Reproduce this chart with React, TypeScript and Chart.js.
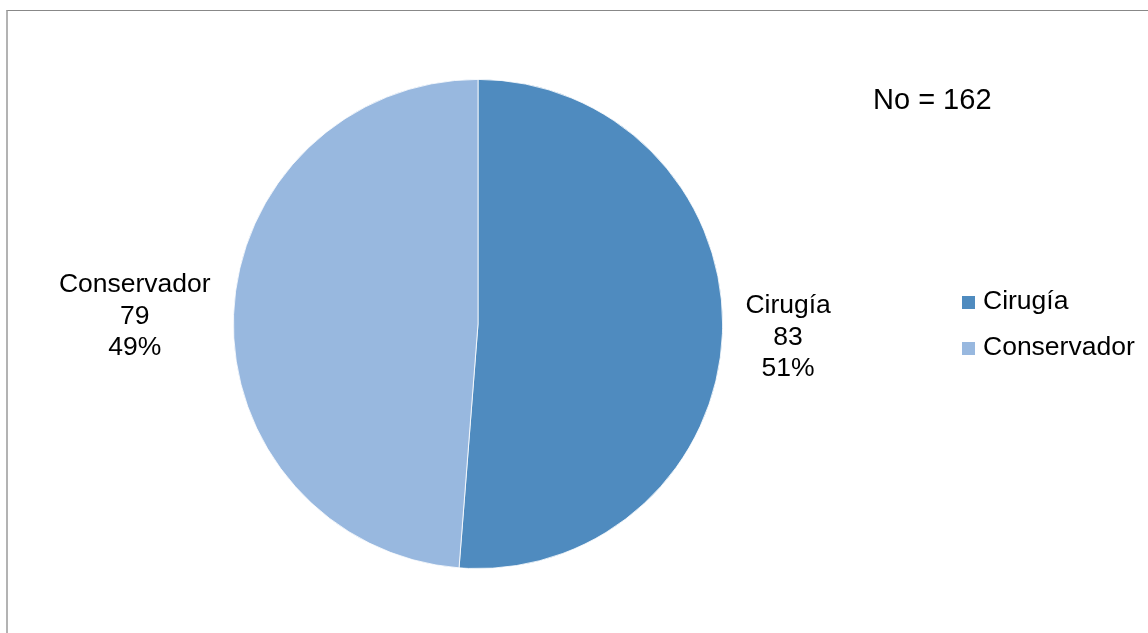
import React, { useEffect, useRef } from "react";
import { Chart, registerables } from "chart.js";

Chart.register(...registerables);

const categories = ["Cirugía", "Conservador"];
const values = [83, 79];
const colors = ["#4F8BBF", "#98B8DF"];
const totalLabelPrefix = "No = ";

const FAMILY = "'Liberation Sans', Arial, sans-serif";
const FONT = "26.5px " + FAMILY;

const labelsPlugin = {
  id: "customLabels",
  afterDatasetsDraw(chart: any) {
    const ctx = chart.ctx as CanvasRenderingContext2D;
    const meta = chart.getDatasetMeta(0);
    const data = chart.data.datasets[0].data as number[];
    const total = data.reduce((a, b) => a + b, 0);
    ctx.save();
    ctx.font = FONT;
    ctx.fillStyle = "#000000";
    ctx.textBaseline = "middle";
    const lineH = 31.5;
    meta.data.forEach((arc: any, i: number) => {
      const mid = (arc.startAngle + arc.endAngle) / 2;
      const r = arc.outerRadius + 23;
      const ax = arc.x + Math.cos(mid) * r;
      const ay = arc.y + Math.sin(mid) * r + 3;
      const lines = [
        String(chart.data.labels[i]),
        String(data[i]),
        Math.round((data[i] / total) * 100) + "%",
      ];
      const w = Math.max(...lines.map((l) => ctx.measureText(l).width));
      const right = Math.cos(mid) >= 0;
      const cx = right ? ax + w / 2 : ax - w / 2;
      ctx.textAlign = "center";
      lines.forEach((l, k) => {
        ctx.fillText(l, cx, ay + (k - 1) * lineH);
      });
    });

    // legend
    ctx.textAlign = "left";
    const legendX = 962;
    const legendY = [302, 348];
    categories.forEach((c, i) => {
      ctx.fillStyle = colors[i];
      ctx.fillRect(legendX, legendY[i] - 6, 13, 13);
      ctx.fillStyle = "#000000";
      ctx.fillText(c, legendX + 21, legendY[i]);
    });

    // total
    ctx.font = "29px " + FAMILY;
    ctx.fillText(totalLabelPrefix + total, 873, 101);
    ctx.restore();
  },
};

export default function App() {
  const ref = useRef<HTMLCanvasElement | null>(null);
  useEffect(() => {
    if (!ref.current) return;
    const chart = new Chart(ref.current, {
      type: "pie",
      data: {
        labels: categories,
        datasets: [
          {
            data: values,
            backgroundColor: colors,
            borderColor: "#ffffff",
            borderWidth: 0.8,
          },
        ],
      },
      options: {
        animation: false,
        responsive: false,
        maintainAspectRatio: false,
        layout: { padding: { left: 233, right: 425, top: 79, bottom: 64 } },
        plugins: {
          legend: { display: false },
          tooltip: { enabled: false },
        },
      },
      plugins: [labelsPlugin],
    });
    return () => chart.destroy();
  }, []);
  return (
    <div style={{ position: "fixed", left: 0, top: 0, width: 1148, height: 633, background: "#fff" }}>
      <div
        style={{
          position: "absolute",
          left: 6,
          top: 10,
          width: 1148,
          height: 640,
          borderLeft: "2px solid #b3b3b3",
          borderTop: "1px solid #888888",
          boxSizing: "border-box",
        }}
      />
      <canvas ref={ref} width={1148} height={633} style={{ position: "absolute", left: 0, top: 0 }} />
    </div>
  );
}
